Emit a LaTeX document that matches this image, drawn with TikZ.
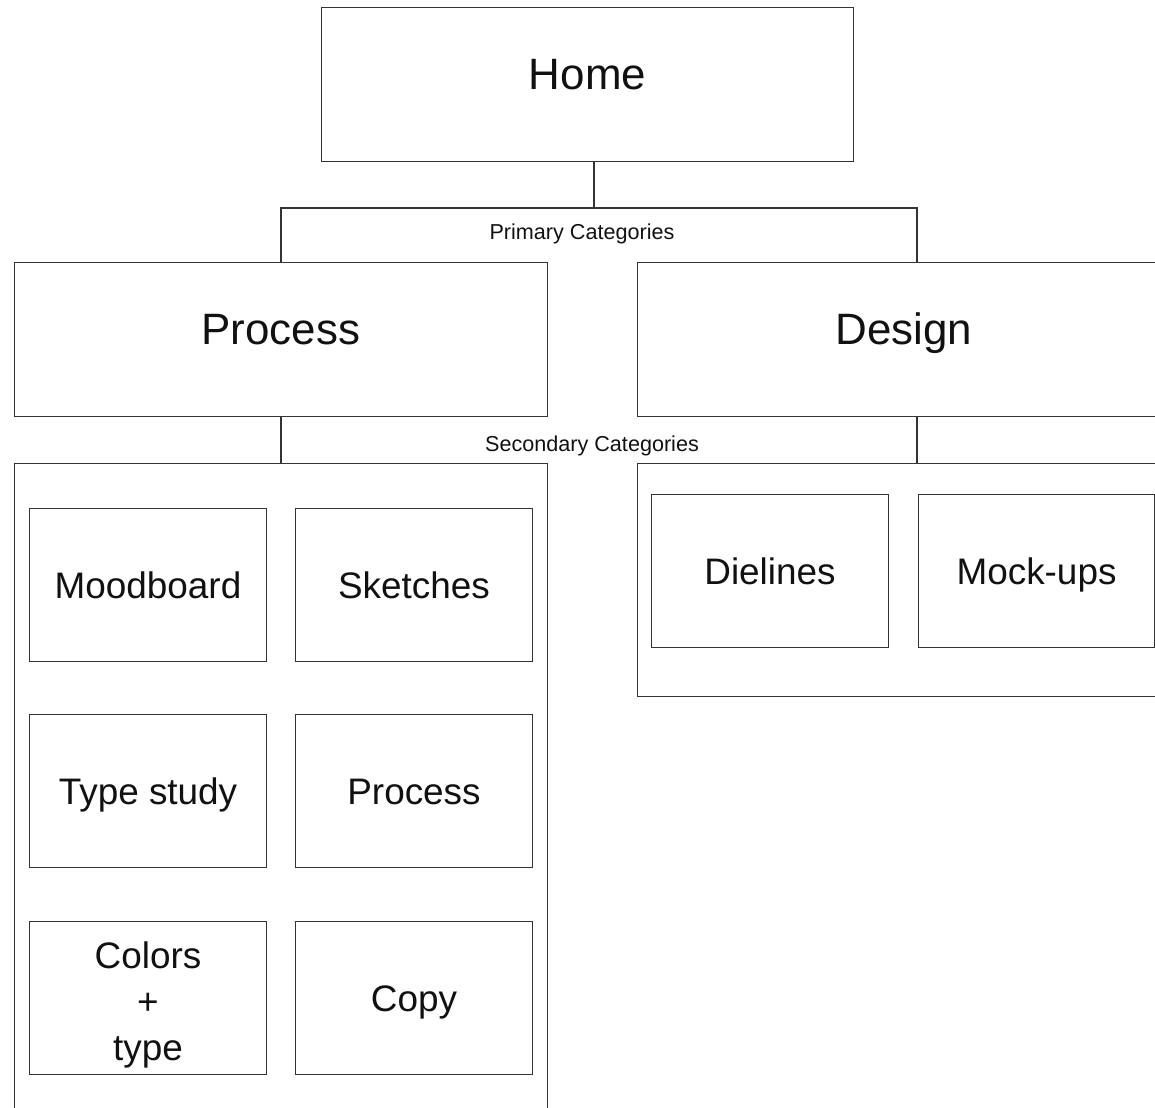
\documentclass[tikz,border=0pt]{standalone}
\usepackage{fontspec}
\setmainfont{Liberation Sans}
\usetikzlibrary{positioning, calc}
\definecolor{mapLine}{HTML}{333333}
\definecolor{mapText}{HTML}{111111}

\tikzset{
	page/.style={draw=mapLine, line width=0.6pt, anchor=north west, inner sep=0pt,
		align=center, text=mapText},
	toppage/.style={page, minimum width=10.66cm, minimum height=3.08cm,
		text height=18pt, text depth=12pt, font=\fontsize{25}{30}\selectfont},
	subpage/.style={page, minimum width=4.74cm, minimum height=3.06cm,
		text height=15pt, text depth=0pt, font=\fontsize{21}{26}\selectfont},
	grouppage/.style={page, minimum width=10.66cm},
	catlabel/.style={text=mapText, inner sep=0pt, font=\fontsize{12.3}{14}\selectfont},
	link/.style={draw=mapLine, line width=0.6pt},
}

\begin{document}
\begin{tikzpicture}[x=0.02cm, y=-0.02cm]
	\useasboundingbox (0,0) rectangle (1155,1107);
	\clip (0,0) rectangle (1155,1107);

	% top level
	\node[toppage, minimum width=10.64cm] (home) at (321,7) {Home};

	% primary categories
	\node[toppage] (process) at (14,262) {Process};
	\node[toppage] (design) at (637,262) {Design};
	\coordinate (barL) at (281,208);
	\coordinate (barM) at (594,208);
	\coordinate (barR) at (917,208);
	\node[catlabel] (primlbl) at (582,234) {Primary Categories};

	\draw[link] (home.south -| barM) -- (barM);
	\draw[link] (process.north -| barL) -- (barL) -- (barR) -- (design.north -| barR);

	% secondary categories
	\node[grouppage, minimum height=13.4cm] (procgrp) at (14,463) {};
	\node[grouppage, minimum height=4.66cm] (desgrp) at (637,463) {};
	\node[catlabel] (seclbl) at (592,446) {Secondary Categories};

	\draw[link] (process.south -| barL) -- (procgrp.north -| barL);
	\draw[link] (design.south -| barR) -- (desgrp.north -| barR);

	% process pages
	\node[subpage] (mood) at (29,508) {Moodboard};
	\node[subpage] (sketch) at (295,508) {Sketches};
	\node[subpage] (typestudy) at (29,714) {Type study};
	\node[subpage] (procpage) at (295,714) {Process};
	\node[subpage, text height=, text depth=] (colortype) at (29,921)
		{\rule{0pt}{23pt}Colors\\+\\type};
	\node[subpage] (copy) at (295,921) {Copy};

	% design pages
	\node[subpage] (dieline) at (651,494) {Dielines};
	\node[subpage, minimum width=4.72cm] (mockup) at (918,494) {Mock-ups};
\end{tikzpicture}
\end{document}
